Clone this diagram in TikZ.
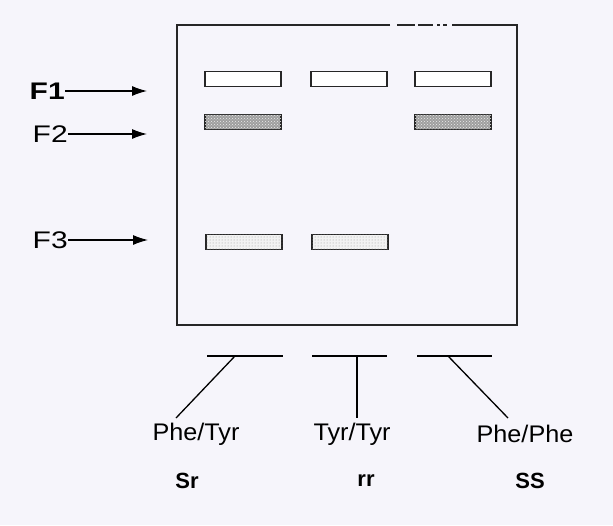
\documentclass[tikz,border=0pt]{standalone}
\usepackage{fontspec}
\setmainfont{Liberation Sans}
\usetikzlibrary{arrows.meta,patterns}
\definecolor{bg}{HTML}{F6F5FB}
\begin{document}
\begin{tikzpicture}[x=1pt,y=-1pt,
 band/.style={draw=black!85,line width=1.8pt,minimum width=76pt,minimum height=15pt,inner sep=0pt},
 blank/.style={band,fill=white},
 dark/.style={band,fill=gray!75,postaction={pattern=crosshatch dots,pattern color=white!85!gray}},
 light/.style={band,fill=gray!10,postaction={pattern=dots,pattern color=gray!80}},
 flabel/.style={font=\fontsize{24}{26}\selectfont,inner sep=0pt,anchor=east,xscale=1.25},
 arr/.style={line width=1.1pt,-{Latex[length=15pt,width=10pt]}},
 geno/.style={font=\fontsize{24}{26}\selectfont,inner sep=0pt,xscale=1.05},
 pheno/.style={font=\bfseries\fontsize{22}{24}\selectfont,inner sep=0pt},
 lane/.style={line width=1.3pt},
 gel/.style={line width=1.8pt,draw=black!85},
]
\useasboundingbox (0,0) rectangle (613,525);
\fill[bg] (0,0) rectangle (613,525);
% gel outline
\draw[gel] (390,25) -- (177,25) -- (177,325) -- (517,325) -- (517,25) -- (452,25);
\draw[gel] (397,25) -- (415,25) (418,25) -- (433,25) (437,25) -- (440,25) (443,25) -- (447,25);
% bands
\node[blank] (b11) at (243,79) {};
\node[blank] (b12) at (349,79) {};
\node[blank] (b13) at (453,79) {};
\node[dark] (b21) at (243,122) {};
\node[dark] (b23) at (453,122) {};
\node[light] (b31) at (244,242) {};
\node[light] (b32) at (350,242) {};
% fraction labels
\node[flabel,font=\bfseries\fontsize{24}{26}\selectfont] (f1) at (65,91) {F1};
\node[flabel] (f2) at (68,134) {F2};
\node[flabel] (f3) at (68,240) {F3};
\coordinate (a1) at (147,91);
\coordinate (a2) at (147,134);
\coordinate (a3) at (148,240);
\draw[arr] (f1.east) -- (a1);
\draw[arr] (f2.east) -- (a2);
\draw[arr] (f3.east) -- (a3);
% lane lines
\coordinate (l1a) at (207,356); \coordinate (l1b) at (283,356);
\coordinate (l2a) at (312,356); \coordinate (l2b) at (387,356);
\coordinate (l3a) at (417,356); \coordinate (l3b) at (492,356);
\draw[lane] (l1a) -- (l1b);
\draw[lane] (l2a) -- (l2b);
\draw[lane] (l3a) -- (l3b);
\coordinate (m1) at (235,356); \coordinate (e1) at (176,418);
\coordinate (m2) at (357,356); \coordinate (e2) at (357,418);
\coordinate (m3) at (448,356); \coordinate (e3) at (508,418);
\draw[lane] (m1) -- (e1);
\draw[lane] (m2) -- (e2);
\draw[lane] (m3) -- (e3);
% genotype labels
\node[geno] (g1) at (196,434) {Phe/Tyr};
\node[geno] (g2) at (352,434) {Tyr/Tyr};
\node[geno] (g3) at (525,434) {Phe/Phe};
\node[pheno] (p1) at (187,481) {Sr};
\node[pheno] (p2) at (366,481) {rr};
\node[pheno] (p3) at (530,481) {SS};
\end{tikzpicture}
\end{document}
